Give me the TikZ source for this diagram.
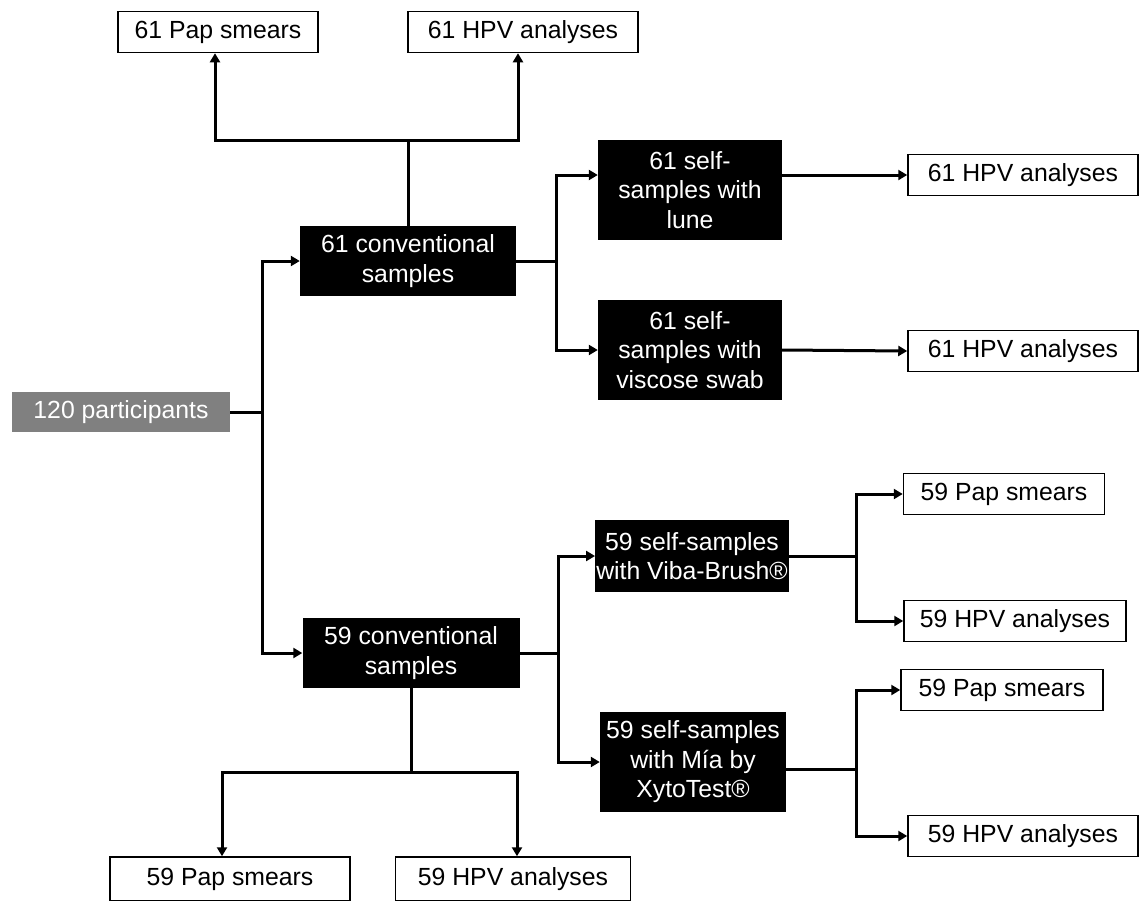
\documentclass[tikz,border=0pt]{standalone}
\usepackage{fontspec}
\setmainfont{Liberation Sans}
\usepackage{tikz}
\usetikzlibrary{arrows.meta,positioning}
\definecolor{partgray}{HTML}{808080}

\begin{document}
\begin{tikzpicture}[x=1pt,y=-1pt,
    every node/.style={font=\fontsize{24.8}{29.5}\selectfont,align=center,inner sep=1pt},
    whitebox/.style={draw=black,line width=1.5pt,fill=white,minimum height=41},
    blackbox/.style={fill=black,text=white},
    link/.style={line width=3pt},
    arr/.style={line width=3pt,-{Triangle[length=9pt,width=10pt]}}]
    \useasboundingbox (0,0) rectangle (1145,900);
    % start and the two arms
    \node[fill=partgray,text=white,minimum width=218,minimum height=40] (part) at (121,412) {120 participants};
    \node[blackbox,minimum width=216,minimum height=70] (conv61) at (408,261) {61 conventional\\samples};
    \node[blackbox,minimum width=217,minimum height=70] (conv59) at (411,653) {59 conventional\\samples};
    % self-samples
    \node[blackbox,minimum width=184,minimum height=100] (lune) at (690,190) {61 self-\\samples with\\lune};
    \node[blackbox,minimum width=184,minimum height=100] (visc) at (690,350) {61 self-\\samples with\\viscose swab};
    \node[blackbox,minimum width=188,minimum height=72] (viba) at (692,556) {59 self-samples\\with Viba-Brush®};
    \node[blackbox,minimum width=186,minimum height=100] (mia) at (693,762) {59 self-samples\\with Mía by\\XytoTest®};
    % analyses
    \node[whitebox,minimum width=200] (pap61t) at (218,32) {61 Pap smears};
    \node[whitebox,minimum width=230] (hpv61t) at (523,32) {61 HPV analyses};
    \node[whitebox,minimum width=230] (hpv61a) at (1023,175) {61 HPV analyses};
    \node[whitebox,minimum width=230] (hpv61b) at (1023,351) {61 HPV analyses};
    \node[whitebox,minimum width=201] (pap59a) at (1004,494) {59 Pap smears};
    \node[whitebox,minimum width=222] (hpv59a) at (1015,621) {59 HPV analyses};
    \node[whitebox,minimum width=202] (pap59b) at (1002,690) {59 Pap smears};
    \node[whitebox,minimum width=230] (hpv59b) at (1023,836) {59 HPV analyses};
    \node[whitebox,minimum width=240,minimum height=44] (pap59d) at (230,879) {59 Pap smears};
    \node[whitebox,minimum width=235,minimum height=44] (hpv59d) at (513,879) {59 HPV analyses};
    % junctions
    \coordinate (sp) at (262,412);
    \coordinate (t61) at (408,140);
    \coordinate (s61) at (556,261);
    \coordinate (s59) at (558,653);
    \coordinate (b59) at (411,772);
    \coordinate (sv) at (856,556);
    \coordinate (sm) at (856,769);
    % connectors
    \draw[link] (part.east) -- (sp);
    \draw[arr] (sp) |- (conv61.west);
    \draw[arr] (sp) |- (conv59.west);
    \draw[link] (conv61.north) -- (t61);
    \draw[arr] (t61) -| ([xshift=-3]pap61t.south);
    \draw[arr] (t61) -| ([xshift=-5]hpv61t.south);
    \draw[link] (conv61.east) -- (s61);
    \draw[arr] (s61) |- (lune.west |- hpv61a.west);
    \draw[arr] (s61) |- (visc.west);
    \draw[arr] (lune.east |- hpv61a.west) -- (hpv61a.west);
    \draw[arr] (visc.east) -- (hpv61b.west);
    \draw[link] (conv59.east) -- (s59);
    \draw[arr] (s59) |- (viba.west);
    \draw[arr] (s59) |- (mia.west);
    \draw[link] (viba.east) -- (sv);
    \draw[arr] (sv) |- (pap59a.west);
    \draw[arr] (sv) |- (hpv59a.west);
    \draw[link] (mia.east |- sm) -- (sm);
    \draw[arr] (sm) |- (pap59b.west);
    \draw[arr] (sm) |- (hpv59b.west);
    \draw[link] (conv59.south) -- (b59);
    \draw[arr] (b59) -| ([xshift=-8]pap59d.north);
    \draw[arr] (b59) -| ([xshift=4]hpv59d.north);
\end{tikzpicture}
\end{document}
